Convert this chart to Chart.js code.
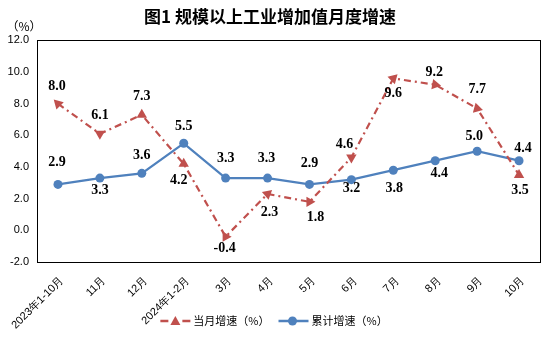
<!DOCTYPE html>
<html>
<head>
<meta charset="utf-8">
<script src="https://cdn.jsdelivr.net/npm/chart.js@4"></script>
<style>
  html, body { margin: 0; padding: 0; background: #fff; }
  #wrap { width: 556px; height: 340px; }
</style>
</head>
<body>
<div id="wrap"><canvas id="chart"></canvas></div>
<script>
const months = ['2023年1-10月', '11月', '12月', '2024年1-2月', '3月', '4月', '5月', '6月', '7月', '8月', '9月', '10月'];
const monthlyGrowth = [8.0, 6.1, 7.3, 4.2, -0.4, 2.3, 1.8, 4.6, 9.6, 9.2, 7.7, 3.5];
const cumulativeGrowth = [2.9, 3.3, 3.6, 5.5, 3.3, 3.3, 2.9, 3.2, 3.8, 4.4, 5.0, 4.4];
const yTicks = [-2, 0, 2, 4, 6, 8, 10, 12];

// where each value label sits relative to its point (dx, dy in px)
const monthlyLabelPos = [[-1, -17], [0, -18], [0, -18], [-5, 17], [-1, 12], [2, 18], [6, 16], [-7, -13], [0, 15], [-1, -12], [0, -19], [1, 15]];
const cumulativeLabelPos = [[-1, -22], [0, 12], [0, -18], [0, -17], [0, -20], [-1, -20], [0, -21], [0, 9], [1, 18], [4, 13], [-3, -15], [4, -12]];
// the triangle markers are turned every which way in the original
const triangleTurn = [-45, 180, 0, 0, 210, -70, 210, 180, -75, -20, -15, 0];

const RED = '#C0504D';
const BLUE = '#4F81BD';

// line + marker sample used in the legend
function drawSwatch(ctx, x, y, color, marker) {
    ctx.strokeStyle = color;
    ctx.fillStyle = color;
    ctx.lineWidth = 2.5;
    ctx.setLineDash([]);
    ctx.beginPath();
    if (marker === 'triangle') {
        ctx.moveTo(x, y); ctx.lineTo(x + 8, y);
        ctx.moveTo(x + 22, y); ctx.lineTo(x + 30, y);
        ctx.stroke();
        ctx.beginPath();
        ctx.moveTo(x + 15, y - 5); ctx.lineTo(x + 20, y + 4); ctx.lineTo(x + 10, y + 4);
        ctx.closePath();
        ctx.fill();
    } else {
        ctx.moveTo(x, y); ctx.lineTo(x + 30, y);
        ctx.stroke();
        ctx.beginPath();
        ctx.arc(x + 14, y, 4.5, 0, Math.PI * 2);
        ctx.fill();
    }
}

// value labels, frame, unit text and legend
const extras = {
    id: 'extras',
    afterDatasetsDraw(chart) {
        const ctx = chart.ctx;
        const area = chart.chartArea;
        ctx.save();
        ctx.strokeStyle = '#000';
        ctx.lineWidth = 1;
        ctx.strokeRect(Math.round(area.left) + 0.5, Math.round(area.top) + 0.5,
            Math.round(area.right - area.left), Math.round(area.bottom - area.top));

        ctx.font = 'bold 14px "Liberation Serif"';
        ctx.fillStyle = '#000';
        ctx.textAlign = 'center';
        ctx.textBaseline = 'middle';
        const sets = [[monthlyGrowth, monthlyLabelPos], [cumulativeGrowth, cumulativeLabelPos]];
        sets.forEach(([values, pos], di) => {
            chart.getDatasetMeta(di).data.forEach((pt, i) => {
                ctx.fillText(values[i].toFixed(1), pt.x + pos[i][0], pt.y + pos[i][1]);
            });
        });

        ctx.font = '12px "Noto Sans CJK SC"';
        ctx.fillText('（%）', 24, 26);
        ctx.restore();
    },
    afterDraw(chart) {
        const ctx = chart.ctx;
        ctx.save();
        ctx.font = '11px "Noto Sans CJK SC"';
        ctx.textBaseline = 'middle';
        ctx.textAlign = 'left';
        const items = chart.data.datasets.map((ds, i) => ({
            text: ds.label,
            color: ds.borderColor,
            marker: i === 0 ? 'triangle' : 'circle',
            w: 33 + ctx.measureText(ds.label).width
        }));
        const gap = 9;
        const total = items.reduce((s, it) => s + it.w, 0) + gap;
        let x = 274 - total / 2;
        const y = 321;
        items.forEach(it => {
            drawSwatch(ctx, x, y, it.color, it.marker);
            ctx.fillStyle = '#000';
            ctx.fillText(it.text, x + 33, y);
            x += it.w + gap;
        });
        ctx.restore();
    }
};

new Chart(document.getElementById('chart'), {
    type: 'line',
    data: {
        labels: months,
        datasets: [{
            label: '当月增速（%）',
            data: monthlyGrowth,
            borderColor: RED,
            backgroundColor: RED,
            borderWidth: 2.2,
            borderDash: [7, 4, 2, 4],
            pointStyle: 'triangle',
            pointRotation: triangleTurn,
            pointRadius: 6,
            pointBackgroundColor: RED,
            pointBorderWidth: 0,
            tension: 0
        }, {
            label: '累计增速（%）',
            data: cumulativeGrowth,
            borderColor: BLUE,
            backgroundColor: BLUE,
            borderWidth: 2.2,
            pointStyle: 'circle',
            pointRadius: 4.5,
            pointBackgroundColor: BLUE,
            pointBorderWidth: 0,
            tension: 0
        }]
    },
    options: {
        responsive: true,
        maintainAspectRatio: false,
        animation: false,
        layout: { padding: { left: 0, right: 16, bottom: 4 } },
        scales: {
            x: {
                offset: true,
                grid: { display: false, drawTicks: false },
                border: { display: false },
                ticks: {
                    maxRotation: 45,
                    minRotation: 45,
                    padding: 12,
                    labelOffset: 4,
                    color: '#000',
                    font: { family: 'Liberation Sans', size: 11 }
                },
                afterFit: (scale) => {
                    scale.height = 74;
                    scale.paddingLeft = 0;
                    scale.paddingRight = 0;
                }
            },
            y: {
                min: -2,
                max: 12,
                afterBuildTicks: (scale) => { scale.ticks = yTicks.map(v => ({ value: v })); },
                grid: { display: false, drawTicks: false },
                border: { display: false },
                ticks: {
                    padding: 8,
                    color: '#000',
                    font: { family: 'Liberation Sans', size: 11 },
                    callback: (v) => v.toFixed(1)
                },
                afterFit: (scale) => { scale.width = 37; }
            }
        },
        plugins: {
            title: {
                display: true,
                text: '图1 规模以上工业增加值月度增速',
                color: '#000',
                font: { family: 'Noto Sans CJK SC', size: 17, weight: 'bold' },
                padding: { top: 6, bottom: 14 }
            },
            legend: { display: false },
            tooltip: { enabled: false }
        }
    },
    plugins: [extras]
});
</script>
</body>
</html>
